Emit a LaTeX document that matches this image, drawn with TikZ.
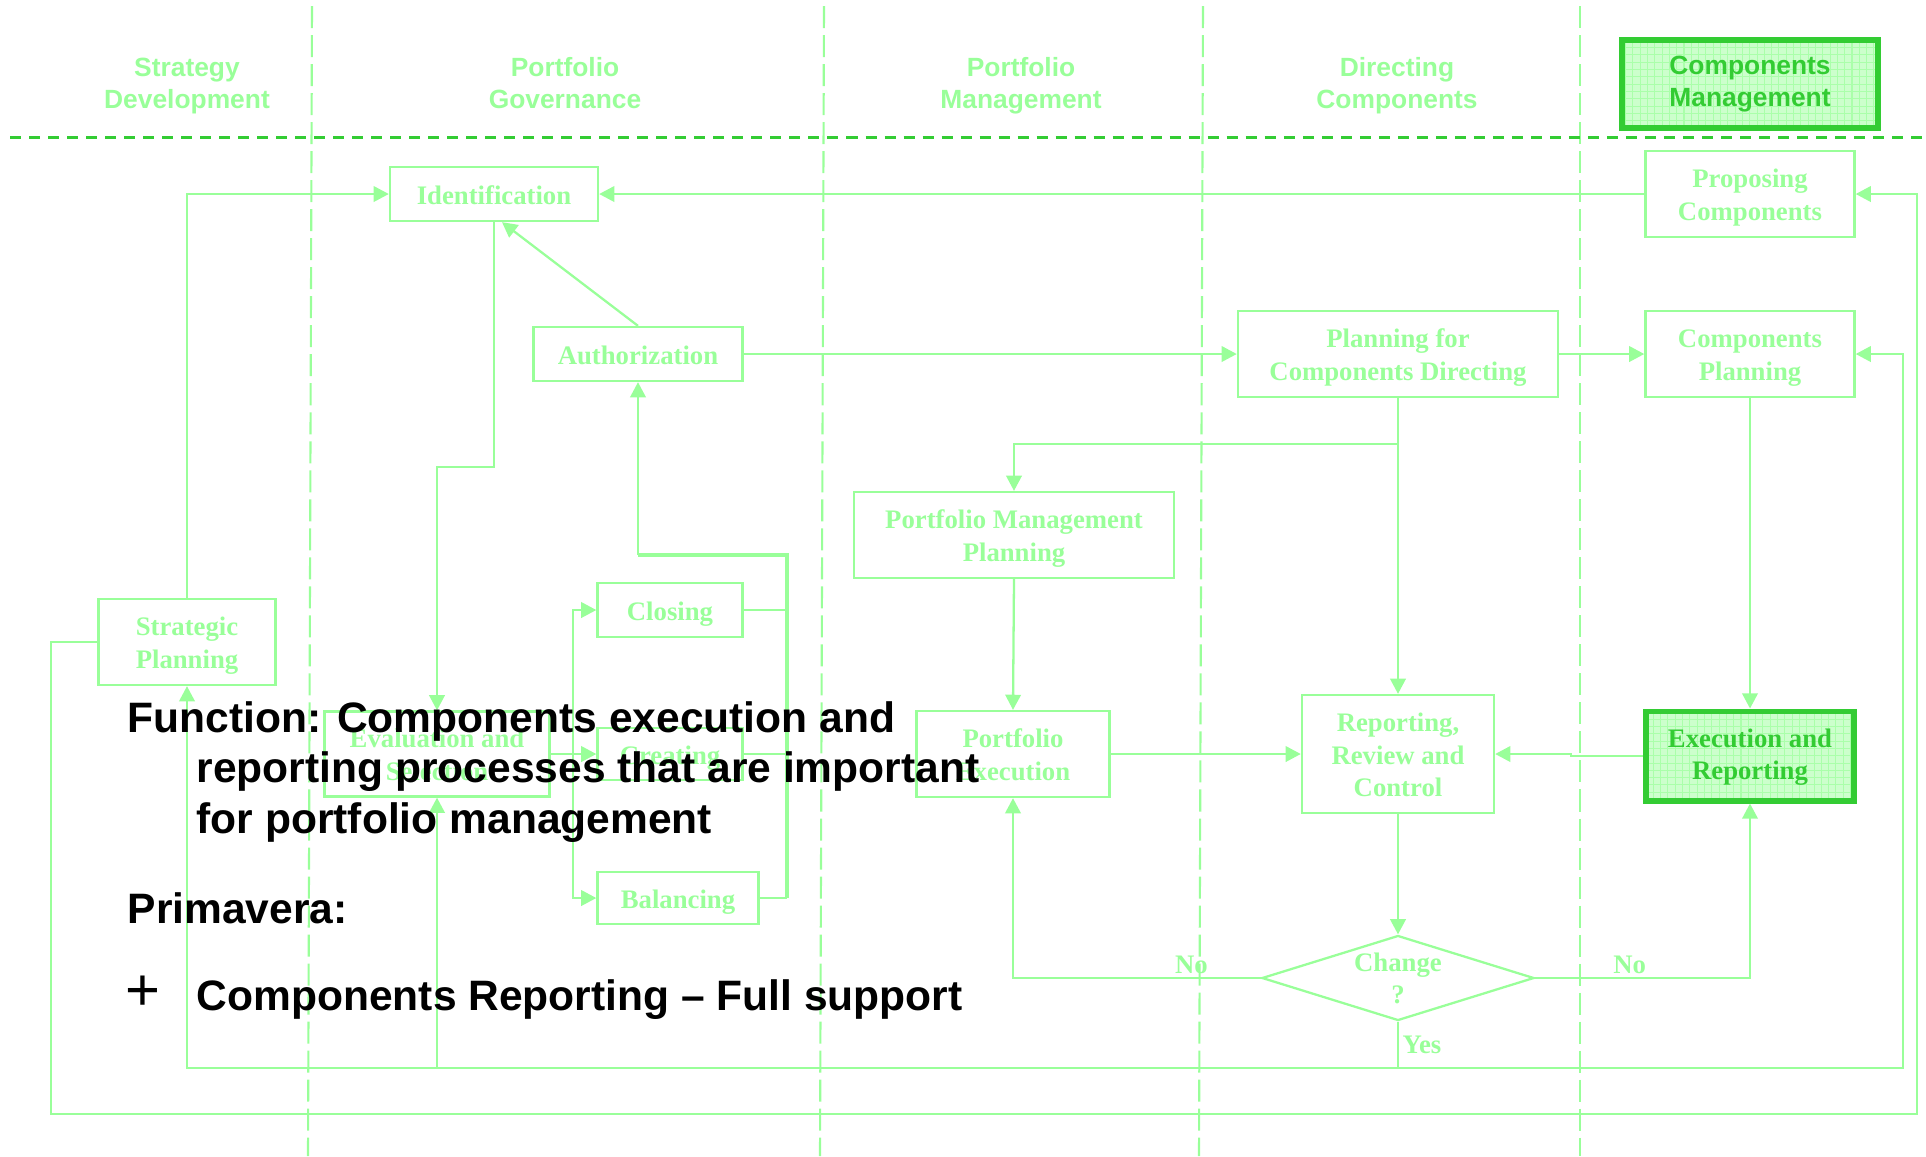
\documentclass[tikz,border=0pt]{standalone}
\usepackage{fontspec}
\setmainfont{Liberation Serif}
\setsansfont{Liberation Sans}
\usepackage{tikz}
\usetikzlibrary{arrows.meta}
\usetikzlibrary{shapes.geometric}
\usetikzlibrary{calc}
\definecolor{paleg}{RGB}{153,255,153}
\definecolor{darkg}{RGB}{51,204,51}
\definecolor{fillg}{RGB}{204,255,204}
\definecolor{gridg}{RGB}{170,255,170}
\newcommand\lanesep[2]{\draw[paleg, line width=0.6pt, dash pattern=on 0.22cm off 0.07cm] (#1,6) -- (#2,1156);}
\newcommand\lanehead[3]{\node[lanetitle] (#1) at (#2,86) {#3};}
\newcommand\boxlines[2][-1pt]{\raisebox{#1}[\height][\depth]{\begin{tabular}{@{}c@{}}#2\end{tabular}}}
\newcommand\flatlines[1]{\raisebox{0pt}[0pt][0pt]{\begin{tabular}{@{}c@{}}#1\end{tabular}}}
\tikzset{
  proc/.style={draw=paleg, line width=0.65pt, fill=white, text=paleg, font=\fontsize{7.6}{9.2}\selectfont\bfseries, align=center, inner sep=0pt,
    execute at begin node={\rule{0pt}{7.6pt}}, execute at end node={\rule[-1.8pt]{0pt}{1.8pt}}},
  hot/.style={proc, draw=darkg, line width=1.7pt, fill=fillg, text=darkg, path picture={\draw[gridg, line width=0.3pt, step=0.073cm] (path picture bounding box.south west) grid (path picture bounding box.north east);}},
  lanetitle/.style={text=paleg, font=\fontsize{7.5}{9.1}\selectfont\sffamily\bfseries, align=center, inner sep=0pt,
    execute at begin node={\rule{0pt}{7.1pt}}, execute at end node={\rule[-1.6pt]{0pt}{1.6pt}}},
  flow/.style={paleg, line width=0.65pt, -{Triangle[length=4.3pt,width=4.4pt]}},
  wire/.style={paleg, line width=0.65pt},
  tag/.style={text=paleg, font=\fontsize{7.6}{9.2}\selectfont\bfseries, inner sep=1pt},
  note/.style={anchor=base west, inner sep=0pt, font=\fontsize{12.1}{14.5}\selectfont\sffamily\bfseries}
}

\begin{document}
\begin{tikzpicture}[x=0.01cm, y=-0.01cm]
\useasboundingbox (0,0) rectangle (1926,1156);

\lanesep{312}{308}
\lanesep{824}{820}
\lanesep{1203}{1199}
\lanesep{1580}{1580}
\draw[darkg, line width=0.85pt, dash pattern=on 0.11cm off 0.08cm] (10,137) -- (1926,137);

\lanehead{hstrat}{187}{Strategy\\Development}
\lanehead{hgov}{565}{Portfolio\\Governance}
\lanehead{hpm}{1021}{Portfolio\\Management}
\lanehead{hdir}{1397}{Directing\\Components}
\node[hot, font=\fontsize{7.5}{9.1}\selectfont\sffamily\bfseries, minimum width=2.55cm, minimum height=0.88cm] (hcm) at (1750,84) {Components\\Management};

\node[proc, minimum width=2.08cm, minimum height=0.54cm] (ident) at (494,194) {Identification};
\node[proc, minimum width=2.09cm, minimum height=0.86cm] (prop) at (1750,194) {\boxlines{Proposing\\Components}};
\node[proc, minimum width=2.09cm, minimum height=0.54cm] (auth) at (638,354) {Authorization};
\node[proc, minimum width=3.2cm, minimum height=0.86cm] (pcd) at (1398,354) {\boxlines{Planning for\\Components Directing}};
\node[proc, minimum width=2.09cm, minimum height=0.86cm] (cplan) at (1750,354) {\boxlines{Components\\Planning}};
\node[proc, minimum width=3.2cm, minimum height=0.86cm] (pmp) at (1014,535) {\boxlines{Portfolio Management\\Planning}};
\node[proc, minimum width=1.77cm, minimum height=0.86cm] (strat) at (187,642) {\boxlines{Strategic\\Planning}};
\node[proc, minimum width=1.45cm, minimum height=0.54cm] (closing) at (670,610) {Closing};
\node[proc, minimum width=2.25cm, minimum height=0.85cm] (eval) at (437,754) {\boxlines{Evaluation and\\Selection}};
\node[proc, minimum width=1.45cm, minimum height=0.52cm] (creating) at (670,754) {Creating};
\node[proc, minimum width=1.61cm, minimum height=0.52cm] (balancing) at (678,898) {Balancing};
\node[proc, minimum width=1.93cm, minimum height=0.86cm] (pexec) at (1013,754) {\boxlines{Portfolio\\Execution}};
\node[proc, minimum width=1.92cm, minimum height=1.18cm] (report) at (1398,754) {\boxlines{Reporting,\\Review and\\Control}};
\node[hot, minimum width=2.08cm, minimum height=0.89cm] (exec) at (1750,756) {\boxlines[-0.3pt]{Execution and\\Reporting}};
\node[proc, diamond, aspect=3.2, minimum width=2.72cm, minimum height=0.85cm] (change) at (1398,978) {\flatlines{Change\\?}};

\coordinate (fork) at (573,754);
\coordinate (merge) at (787,555);
\coordinate (split) at (1398,444);
\coordinate (yes) at (1398,1068);
\coordinate (innerR) at (1903,1068);
\coordinate (outerL) at (51,1114);
\coordinate (outerR) at (1917,1114);

\draw[flow] (strat.north) |- (ident.west);
\draw[flow] (prop.west) -- (ident.east);
\draw[flow] (auth.north) -- ([xshift=0.08cm]ident.south);
\draw[flow] (ident.south) -- ++(0,245) -| (eval.north);
\draw[flow] (auth.east) -- (pcd.west);
\draw[flow] (pcd.east) -- (cplan.west);

\draw[wire] (eval.east) -- (fork);
\draw[flow] (fork) |- (closing.west);
\draw[flow] (fork) -- (creating.west);
\draw[flow] (fork) |- (balancing.west);
\draw[wire] (closing.east) -- (closing.east -| merge);
\draw[wire] (creating.east) -- (creating.east -| merge);
\draw[wire] (balancing.east) -- (balancing.east -| merge);
\draw[wire, line width=1pt] (balancing.east -| merge) -- (merge) -- (merge -| auth.south);
\draw[flow] (merge -| auth.south) -- (auth.south);

\draw[flow] (pcd.south) -- (report.north);
\draw[flow] (split) -| (pmp.north);
\draw[flow] (pmp.south) -- (pexec.north);
\draw[flow] (pexec.east) -- (report.west);
\draw[flow] (cplan.south) -- (exec.north);
\draw[flow] (exec.west) -- ++(-72,0) |- (report.east);
\draw[flow] (report.south) -- (change.north);
\draw[flow] (change.west) -| node[tag, pos=0.14, above] (noleft) {No} (pexec.south);
\draw[flow] (change.east) -| node[tag, pos=0.22, above] (noright) {No} (exec.south);

\draw[wire] (change.south) -- node[tag, right] (yeslbl) {Yes} (yes);
\draw[flow] (yes) -| (strat.south);
\draw[flow] (yes) -| (eval.south);
\draw[flow] (yes) -- (innerR) |- (cplan.east);
\draw[flow] (strat.west) -| (outerL) -- (outerR) |- (prop.east);

\node[note] (fn1) at (127,732) {Function: Components execution and};
\node[note] (fn2) at (196,782) {reporting processes that are important};
\node[note] (fn3) at (196,833) {for portfolio management};
\node[note] (prim) at (127,923) {Primavera:};
\node[note, font=\fontsize{17}{20}\selectfont\sffamily] (plus) at (125,1010) {+};
\node[note] (crep) at (196,1010) {Components Reporting – Full support};
\end{tikzpicture}
\end{document}
